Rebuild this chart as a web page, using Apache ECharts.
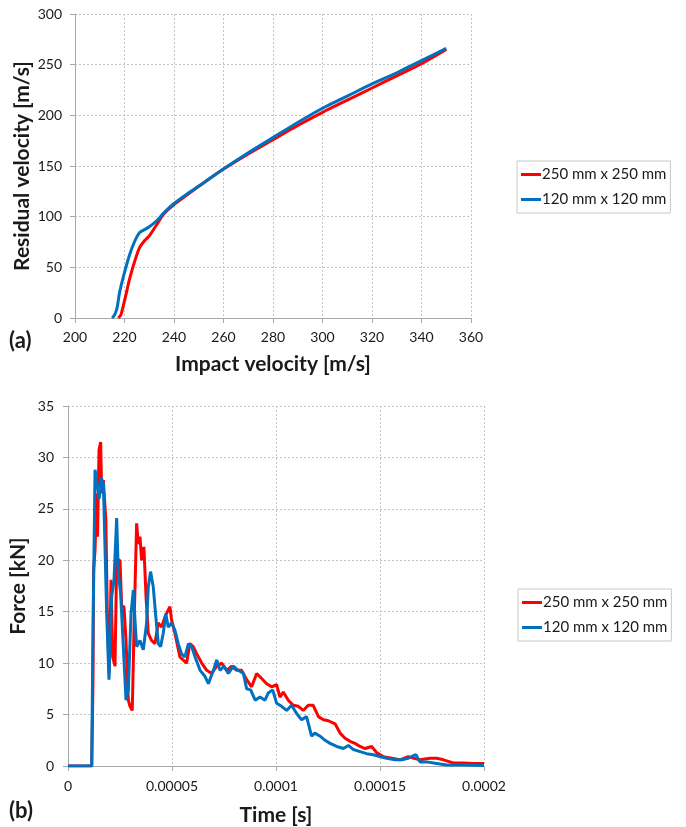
<!DOCTYPE html>
<html>
<head>
<meta charset="utf-8">
<script src="https://cdn.jsdelivr.net/npm/echarts@6/dist/echarts.min.js"></script>
<style>
html,body{margin:0;padding:0;background:#fff;}
#chart{width:686px;height:827px;}
</style>
</head>
<body>
<div id="chart"></div>
<script>
var seriesNames = ['250 mm x 250 mm', '120 mm x 120 mm'];

// (a) impact velocity [m/s] -> residual velocity [m/s]
var res250 = [[217.5,0],[218.5,3],[219.5,12],[220.5,22],[222,38],[224,55],[226,69],[228,76],[230,81],[233,92],[236,103],[240,112],[245,121],[250,130],[260,147],[270,162],[280,176],[290,190],[300,203],[310,215],[320,227],[330,239],[340,251],[350,265]];
var res120 = [[215,0],[216,3],[217,10],[218,25],[220,45],[222,62],[224,75],[226,84],[228,87],[230,90],[233,96],[236,104],[240,113],[245,122],[250,130],[260,147],[270,163],[280,178],[290,193],[300,207],[310,219],[320,231],[330,242],[340,254],[350,266]];

// (b) time [s] -> force [kN]
var force250 = [[0,0],[11.4e-6,0],[12.0e-6,8],[12.3e-6,19],[13.0e-6,21],[13.8e-6,26.5],[14.2e-6,22.3],[14.9e-6,30.7],[15.7e-6,31.5],[16.2e-6,26.5],[17.0e-6,27.8],[18.2e-6,23.9],[18.9e-6,14.8],[19.8e-6,9.0],[20.7e-6,18.1],[21.5e-6,10.6],[22.6e-6,9.7],[23.4e-6,20],[25.0e-6,20],[25.8e-6,15.5],[26.9e-6,15.5],[27.9e-6,12.2],[29.0e-6,6.4],[29.8e-6,5.8],[30.9e-6,5.4],[31.9e-6,14.8],[33.0e-6,23.6],[33.8e-6,21.6],[34.6e-6,22.3],[35.4e-6,20],[36.5e-6,21.3],[37.5e-6,16.5],[38.6e-6,12.9],[40.2e-6,12.2],[41.8e-6,11.9],[43.4e-6,13.9],[45.0e-6,13.5],[46.6e-6,14.5],[49.0e-6,15.5],[49.8e-6,14.2],[51.4e-6,12.9],[53.8e-6,10.6],[55.4e-6,10.3],[57.0e-6,10.0],[58.6e-6,11.9],[60.2e-6,11.6],[61.9e-6,10.9],[64.3e-6,10.0],[66.7e-6,9.3],[69.1e-6,9.0],[71.5e-6,9.7],[73.9e-6,10.0],[76.3e-6,9.3],[78.7e-6,9.7],[81.1e-6,9.3],[83.5e-6,9.3],[85.9e-6,8.4],[88.3e-6,7.7],[90.7e-6,9.0],[93.1e-6,8.5],[95.5e-6,8.0],[97.9e-6,7.7],[100.3e-6,7.9],[101.9e-6,6.7],[103.5e-6,7.2],[105.9e-6,6.4],[108.3e-6,5.9],[110.7e-6,5.8],[113.1e-6,5.4],[115.5e-6,5.9],[117.9e-6,5.9],[120.4e-6,4.8],[122.8e-6,4.5],[125.2e-6,4.4],[128.4e-6,4.1],[130.8e-6,3.2],[133.2e-6,2.7],[135.6e-6,2.4],[138.0e-6,2.2],[140.4e-6,1.9],[142.8e-6,1.7],[146.0e-6,1.9],[148.4e-6,1.3],[151.6e-6,0.9],[155.6e-6,0.75],[159.6e-6,0.6],[163.6e-6,0.9],[169.2e-6,0.6],[174.1e-6,0.75],[177.3e-6,0.75],[180.5e-6,0.6],[185.2e-6,0.3],[190.0e-6,0.3],[194.8e-6,0.25],[200.0e-6,0.25]];
var force120 = [[0,0],[11.4e-6,0],[11.9e-6,11],[13.0e-6,28.8],[14.0e-6,27.5],[15.0e-6,26],[16.0e-6,28],[17.0e-6,27.5],[18.6e-6,14.8],[19.7e-6,8.4],[21.0e-6,16.5],[22.1e-6,18],[23.4e-6,24.1],[24.2e-6,18.7],[25.3e-6,16.8],[26.6e-6,11.6],[27.9e-6,6.4],[29.0e-6,7.4],[30.3e-6,14.8],[31.4e-6,17.1],[32.2e-6,14.2],[33.0e-6,11.6],[34.6e-6,12.2],[36.2e-6,11.3],[37.8e-6,13.9],[38.6e-6,17.4],[39.7e-6,18.9],[41.0e-6,17.4],[42.1e-6,14.8],[43.4e-6,11.9],[44.5e-6,11.6],[45.8e-6,12.9],[47.0e-6,14.8],[48.2e-6,13.5],[49.8e-6,13.9],[51.4e-6,13.2],[53.0e-6,11.9],[54.6e-6,10.9],[56.2e-6,10.6],[57.9e-6,11.9],[59.5e-6,11.6],[61.1e-6,10.6],[63.5e-6,9.3],[65.9e-6,8.7],[67.5e-6,8.0],[69.9e-6,9.3],[71.5e-6,10.3],[73.1e-6,9.3],[75.0e-6,9.7],[77.1e-6,9.0],[79.5e-6,9.7],[81.9e-6,9.3],[84.3e-6,9.0],[85.9e-6,7.5],[87.8e-6,7.4],[90.0e-6,6.4],[92.3e-6,6.7],[94.7e-6,6.4],[96.3e-6,7.1],[98.4e-6,7.4],[100.3e-6,6.1],[102.7e-6,5.8],[105.1e-6,5.4],[107.5e-6,5.9],[109.9e-6,5.1],[112.3e-6,4.5],[114.7e-6,4.8],[117.1e-6,2.9],[118.7e-6,3.2],[121.2e-6,2.9],[123.6e-6,2.5],[126.0e-6,2.2],[129.2e-6,1.9],[132.4e-6,1.7],[134.8e-6,2.0],[137.2e-6,1.6],[140.4e-6,1.4],[143.6e-6,1.2],[146.8e-6,1.1],[150.3e-6,0.9],[153.2e-6,0.75],[157.2e-6,0.6],[160.4e-6,0.6],[163.6e-6,0.75],[166.0e-6,1.0],[167.3e-6,1.1],[169.2e-6,0.4],[172.4e-6,0.4],[177.3e-6,0.25],[182.0e-6,0.1],[190.0e-6,0.1],[200.0e-6,0.05]];

var timeLabels = ['0', '0.00005', '0.0001', '0.00015', '0.0002'];

var chart = echarts.init(document.getElementById('chart'));
var font = 'Lato, "Open Sans", sans-serif';
var textColor = '#1a1a1a';
var gridLine = {show: true, lineStyle: {color: '#c4c4c4', type: [2, 2], width: 1}};
var axisLine = {show: true, lineStyle: {color: '#a8a8a8', width: 1}};
var tick = {show: true, length: 5, lineStyle: {color: '#a8a8a8'}};
var label = {color: textColor, fontFamily: font, fontSize: 14};
var nameStyle = {color: textColor, fontFamily: font, fontSize: 21, fontWeight: 'bold'};

function legendAt(left, top) {
    return {
        data: seriesNames,
        left: left, top: top,
        orient: 'vertical',
        icon: 'rect', itemWidth: 20, itemHeight: 3, itemGap: 10,
        padding: [6, 4, 6, 4],
        borderColor: '#c8c8c8', borderWidth: 1, backgroundColor: '#fff',
        textStyle: {color: textColor, fontFamily: font, fontSize: 15, padding: [0, 0, 0, -4]},
        selectedMode: false
    };
}

var option = {
    animation: false,
    color: ['#ff0000', '#0070c0'],
    grid: [
        {left: 75, top: 14, width: 396, height: 304, outerBoundsMode: 'none'},
        {left: 68, top: 406, width: 416, height: 360, outerBoundsMode: 'none'}
    ],
    legend: [legendAt(517, 161), legendAt(518, 589)],
    xAxis: [{
        gridIndex: 0, type: 'value', min: 200, max: 360, interval: 20,
        name: 'Impact velocity [m/s]', nameLocation: 'middle', nameGap: 36, nameMoveOverlap: false, nameTextStyle: nameStyle,
        axisLine: axisLine, axisTick: tick, splitLine: gridLine,
        axisLabel: Object.assign({margin: 12}, label)
    }, {
        gridIndex: 1, type: 'value', min: 0, max: 0.0002, interval: 0.00005,
        name: 'Time [s]', nameLocation: 'middle', nameGap: 39, nameMoveOverlap: false, nameTextStyle: nameStyle,
        axisLine: axisLine, axisTick: tick, splitLine: gridLine,
        axisLabel: Object.assign({margin: 13, formatter: function (v) {
            return timeLabels[Math.round(v / 0.00005)];
        }}, label)
    }],
    yAxis: [{
        gridIndex: 0, type: 'value', min: 0, max: 300, interval: 50,
        name: 'Residual velocity [m/s]', nameLocation: 'middle', nameGap: 42, nameMoveOverlap: false, nameTextStyle: nameStyle,
        axisLine: axisLine, axisTick: tick, splitLine: gridLine,
        axisLabel: Object.assign({margin: 13}, label)
    }, {
        gridIndex: 1, type: 'value', min: 0, max: 35, interval: 5,
        name: 'Force [kN]', nameLocation: 'middle', nameGap: 39, nameMoveOverlap: false, nameTextStyle: nameStyle,
        axisLine: axisLine, axisTick: tick, splitLine: gridLine,
        axisLabel: Object.assign({margin: 14}, label)
    }],
    series: [
        {name: seriesNames[0], type: 'line', xAxisIndex: 0, yAxisIndex: 0, data: res250, symbol: 'none', smooth: 0.3, lineStyle: {width: 3}},
        {name: seriesNames[1], type: 'line', xAxisIndex: 0, yAxisIndex: 0, data: res120, symbol: 'none', smooth: 0.3, lineStyle: {width: 3}},
        {name: seriesNames[0], type: 'line', xAxisIndex: 1, yAxisIndex: 1, data: force250, symbol: 'none', lineStyle: {width: 3}},
        {name: seriesNames[1], type: 'line', xAxisIndex: 1, yAxisIndex: 1, data: force120, symbol: 'none', lineStyle: {width: 3}}
    ],
    graphic: [
        {type: 'text', left: 9, top: 330, style: {text: '(a)', fill: textColor, font: 'bold 22px ' + font}},
        {type: 'text', left: 9, top: 800, style: {text: '(b)', fill: textColor, font: 'bold 22px ' + font}}
    ]
};

chart.setOption(option);
window.onresize = function () {
    chart.resize();
};
</script>
</body>
</html>
